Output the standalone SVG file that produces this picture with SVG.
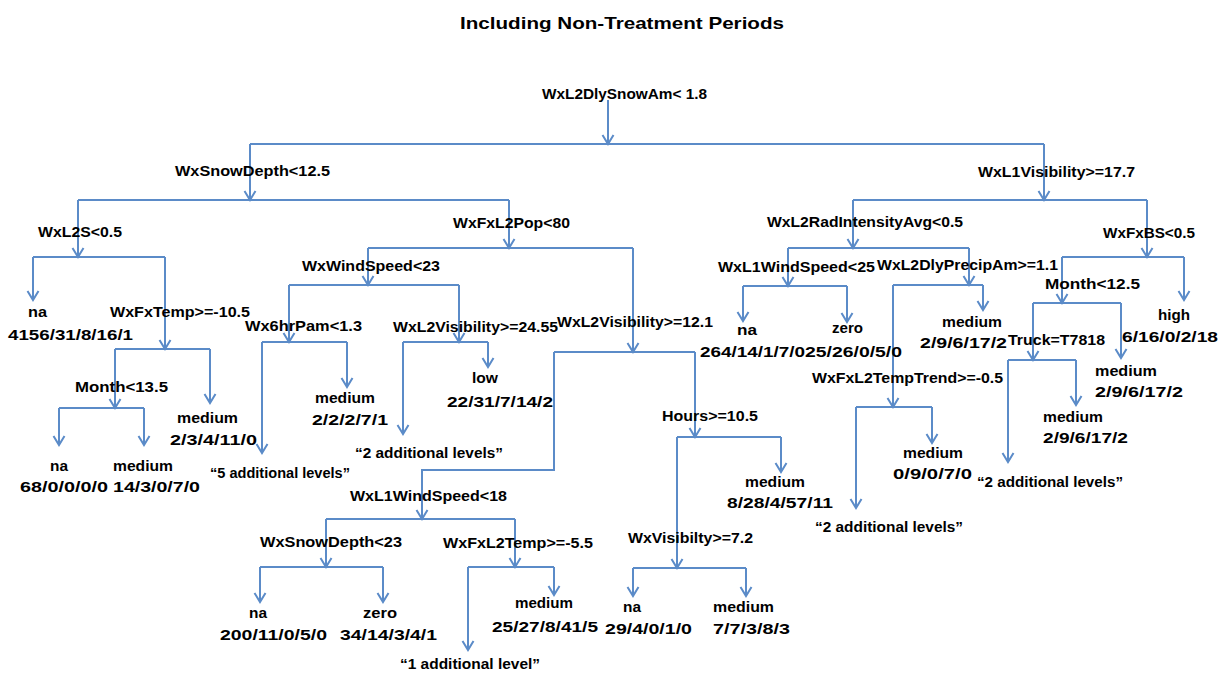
<svg xmlns="http://www.w3.org/2000/svg" width="1219" height="673" viewBox="0 0 1219 673">
<style>
text{font-family:"Liberation Sans",Arial,sans-serif;font-weight:bold;font-size:15px;fill:#000}
.title{font-size:17px}
.c path{fill:none;stroke:#5B8BC8;stroke-width:2}
.c .e{marker-end:url(#ah)}
</style>
<defs>
<marker id="ah" viewBox="-11 -7 13 14" markerWidth="13" markerHeight="14" refX="0" refY="0" orient="auto" markerUnits="userSpaceOnUse">
<path d="M-9,-5.5 L0,0 L-9,5.5" fill="none" stroke="#5B8BC8" stroke-width="2"/>
</marker>
</defs>
<rect width="1219" height="673" fill="#fff"/>
<text class="title" x="460" y="29" textLength="324" lengthAdjust="spacingAndGlyphs">Including Non-Treatment Periods</text>

<g class="c" id="connectors">
<path class="e" d="M608,100 V144"/>
<path d="M250,144 H1044"/>
<path class="e" d="M250,144 V200"/>
<path d="M78,200 H509"/>
<path class="e" d="M78,200 V257"/>
<path d="M33,257 H165"/>
<path class="e" d="M33,257 V300"/>
<path class="e" d="M165,257 V349"/>
<path d="M115,349 H210"/>
<path class="e" d="M115,349 V408"/>
<path d="M59,408 H144"/>
<path class="e" d="M59,408 V445"/>
<path class="e" d="M144,408 V445"/>
<path class="e" d="M210,349 V403"/>
<path class="e" d="M509,200 V248"/>
<path d="M368,248 H633"/>
<path class="e" d="M368,248 V285"/>
<path d="M289,285 H459"/>
<path class="e" d="M289,285 V342"/>
<path d="M262,342 H347"/>
<path class="e" d="M262,342 V453"/>
<path class="e" d="M347,342 V387"/>
<path class="e" d="M459,285 V342"/>
<path d="M403,342 H488"/>
<path class="e" d="M403,342 V434"/>
<path class="e" d="M488,342 V367"/>
<path class="e" d="M633,248 V352"/>
<path d="M554,352 H695"/>
<path class="e" d="M554,352 V470 H422 V519"/>
<path d="M326,519 H515"/>
<path class="e" d="M326,519 V567"/>
<path d="M260,567 H383"/>
<path class="e" d="M260,567 V602"/>
<path class="e" d="M383,567 V602"/>
<path class="e" d="M515,519 V567"/>
<path d="M468,567 H554"/>
<path class="e" d="M468,567 V650"/>
<path class="e" d="M554,567 V595"/>
<path class="e" d="M695,352 V437"/>
<path d="M677,437 H781"/>
<path class="e" d="M677,437 V568"/>
<path d="M633,568 H746"/>
<path class="e" d="M633,568 V596"/>
<path class="e" d="M746,568 V596"/>
<path class="e" d="M781,437 V472"/>
<path class="e" d="M1044,144 V200"/>
<path d="M853,200 H1147"/>
<path class="e" d="M853,200 V248"/>
<path d="M788,248 H969"/>
<path class="e" d="M788,248 V286"/>
<path d="M743,286 H847"/>
<path class="e" d="M743,286 V321"/>
<path class="e" d="M847,286 V322"/>
<path class="e" d="M969,248 V285"/>
<path d="M893,285 H983"/>
<path class="e" d="M893,285 V407"/>
<path d="M856,407 H932"/>
<path class="e" d="M856,407 V508"/>
<path class="e" d="M932,407 V443"/>
<path class="e" d="M983,285 V310"/>
<path class="e" d="M1147,200 V257"/>
<path d="M1062,257 H1184"/>
<path class="e" d="M1062,257 V303"/>
<path d="M1033,303 H1121"/>
<path class="e" d="M1033,303 V360"/>
<path d="M1008,360 H1076"/>
<path class="e" d="M1008,360 V462"/>
<path class="e" d="M1076,360 V405"/>
<path class="e" d="M1121,303 V358"/>
<path class="e" d="M1184,257 V300"/>
</g>

<g id="n-root"><text x="542" y="99" textLength="165" lengthAdjust="spacingAndGlyphs">WxL2DlySnowAm&lt; 1.8</text></g>
<g id="n-snowdepth125"><text x="175" y="176" textLength="155" lengthAdjust="spacingAndGlyphs">WxSnowDepth&lt;12.5</text></g>
<g id="n-l1vis177"><text x="978" y="177" textLength="157" lengthAdjust="spacingAndGlyphs">WxL1Visibility&gt;=17.7</text></g>
<g id="n-l2s"><text x="38" y="237" textLength="84" lengthAdjust="spacingAndGlyphs">WxL2S&lt;0.5</text></g>
<g id="n-pop"><text x="453" y="228" textLength="117" lengthAdjust="spacingAndGlyphs">WxFxL2Pop&lt;80</text></g>
<g id="n-rad"><text x="767" y="227" textLength="196" lengthAdjust="spacingAndGlyphs">WxL2RadIntensityAvg&lt;0.5</text></g>
<g id="n-bs"><text x="1103" y="238" textLength="92" lengthAdjust="spacingAndGlyphs">WxFxBS&lt;0.5</text></g>
<g id="n-wind23"><text x="302" y="271" textLength="138" lengthAdjust="spacingAndGlyphs">WxWindSpeed&lt;23</text></g>
<g id="n-l1wind25"><text x="718" y="272" textLength="157" lengthAdjust="spacingAndGlyphs">WxL1WindSpeed&lt;25</text></g>
<g id="n-precip"><text x="877" y="270" textLength="181" lengthAdjust="spacingAndGlyphs">WxL2DlyPrecipAm&gt;=1.1</text></g>
<g id="n-month125"><text x="1045" y="289" textLength="95" lengthAdjust="spacingAndGlyphs">Month&lt;12.5</text></g>
<g id="l-na1"><text x="28" y="317" textLength="19" lengthAdjust="spacingAndGlyphs">na</text><text x="8" y="340" textLength="125" lengthAdjust="spacingAndGlyphs">4156/31/8/16/1</text></g>
<g id="n-fxtemp"><text x="110" y="317" textLength="140" lengthAdjust="spacingAndGlyphs">WxFxTemp&gt;=-10.5</text></g>
<g id="n-6hr"><text x="245" y="331" textLength="117" lengthAdjust="spacingAndGlyphs">Wx6hrPam&lt;1.3</text></g>
<g id="n-l2vis2455"><text x="393" y="332" textLength="165" lengthAdjust="spacingAndGlyphs">WxL2Visibility&gt;=24.55</text></g>
<g id="n-l2vis121"><text x="557" y="327" textLength="156" lengthAdjust="spacingAndGlyphs">WxL2Visibility&gt;=12.1</text></g>
<g id="l-na-wind25"><text x="737" y="335" textLength="20" lengthAdjust="spacingAndGlyphs">na</text><text x="700" y="357" textLength="105" lengthAdjust="spacingAndGlyphs">264/14/1/7/0</text></g>
<g id="l-zero-wind25"><text x="832" y="333" textLength="31" lengthAdjust="spacingAndGlyphs">zero</text><text x="805" y="357" textLength="97" lengthAdjust="spacingAndGlyphs">25/26/0/5/0</text></g>
<g id="l-med-precip"><text x="942" y="327" textLength="60" lengthAdjust="spacingAndGlyphs">medium</text><text x="920" y="348" textLength="87" lengthAdjust="spacingAndGlyphs">2/9/6/17/2</text></g>
<g id="l-high"><text x="1158" y="320" textLength="32" lengthAdjust="spacingAndGlyphs">high</text><text x="1122" y="342" textLength="96" lengthAdjust="spacingAndGlyphs">6/16/0/2/18</text></g>
<g id="n-truck"><text x="1008" y="345" textLength="97" lengthAdjust="spacingAndGlyphs">Truck=T7818</text></g>
<g id="l-med-month125"><text x="1095" y="376" textLength="62" lengthAdjust="spacingAndGlyphs">medium</text><text x="1095" y="397" textLength="88" lengthAdjust="spacingAndGlyphs">2/9/6/17/2</text></g>
<g id="n-temptrend"><text x="812" y="383" textLength="191" lengthAdjust="spacingAndGlyphs">WxFxL2TempTrend&gt;=-0.5</text></g>
<g id="l-low"><text x="472" y="383" textLength="26" lengthAdjust="spacingAndGlyphs">low</text><text x="447" y="407" textLength="106" lengthAdjust="spacingAndGlyphs">22/31/7/14/2</text></g>
<g id="l-med-6hr"><text x="315" y="403" textLength="60" lengthAdjust="spacingAndGlyphs">medium</text><text x="312" y="425" textLength="76" lengthAdjust="spacingAndGlyphs">2/2/2/7/1</text></g>
<g id="n-month135"><text x="75" y="392" textLength="93" lengthAdjust="spacingAndGlyphs">Month&lt;13.5</text></g>
<g id="n-hours"><text x="662" y="421" textLength="96" lengthAdjust="spacingAndGlyphs">Hours&gt;=10.5</text></g>
<g id="l-med-truck"><text x="1043" y="422" textLength="60" lengthAdjust="spacingAndGlyphs">medium</text><text x="1043" y="443" textLength="85" lengthAdjust="spacingAndGlyphs">2/9/6/17/2</text></g>
<g id="l-med-fxtemp"><text x="177" y="423" textLength="61" lengthAdjust="spacingAndGlyphs">medium</text><text x="170" y="445" textLength="87" lengthAdjust="spacingAndGlyphs">2/3/4/11/0</text></g>
<g id="l-2add-l2vis"><text x="355" y="458" textLength="148" lengthAdjust="spacingAndGlyphs">“2 additional levels”</text></g>
<g id="l-med-temptrend"><text x="903" y="458" textLength="60" lengthAdjust="spacingAndGlyphs">medium</text><text x="893" y="479" textLength="79" lengthAdjust="spacingAndGlyphs">0/9/0/7/0</text></g>
<g id="l-na-month135"><text x="50" y="471" textLength="18" lengthAdjust="spacingAndGlyphs">na</text><text x="20" y="492" textLength="88" lengthAdjust="spacingAndGlyphs">68/0/0/0/0</text></g>
<g id="l-med-month135"><text x="113" y="471" textLength="60" lengthAdjust="spacingAndGlyphs">medium</text><text x="113" y="492" textLength="87" lengthAdjust="spacingAndGlyphs">14/3/0/7/0</text></g>
<g id="l-5add"><text x="210" y="478" textLength="140" lengthAdjust="spacingAndGlyphs">“5 additional levels”</text></g>
<g id="l-2add-truck"><text x="977" y="487" textLength="146" lengthAdjust="spacingAndGlyphs">“2 additional levels”</text></g>
<g id="l-med-hours"><text x="745" y="487" textLength="60" lengthAdjust="spacingAndGlyphs">medium</text><text x="727" y="508" textLength="106" lengthAdjust="spacingAndGlyphs">8/28/4/57/11</text></g>
<g id="n-l1wind18"><text x="350" y="501" textLength="157" lengthAdjust="spacingAndGlyphs">WxL1WindSpeed&lt;18</text></g>
<g id="l-2add-temptrend"><text x="815" y="532" textLength="148" lengthAdjust="spacingAndGlyphs">“2 additional levels”</text></g>
<g id="n-wxvis72"><text x="628" y="543" textLength="125" lengthAdjust="spacingAndGlyphs">WxVisibilty&gt;=7.2</text></g>
<g id="n-snow23"><text x="260" y="547" textLength="142" lengthAdjust="spacingAndGlyphs">WxSnowDepth&lt;23</text></g>
<g id="n-fxl2temp"><text x="443" y="548" textLength="150" lengthAdjust="spacingAndGlyphs">WxFxL2Temp&gt;=-5.5</text></g>
<g id="l-med-fxl2temp"><text x="515" y="608" textLength="58" lengthAdjust="spacingAndGlyphs">medium</text><text x="492" y="632" textLength="106" lengthAdjust="spacingAndGlyphs">25/27/8/41/5</text></g>
<g id="l-na-wxvis"><text x="623" y="612" textLength="18" lengthAdjust="spacingAndGlyphs">na</text><text x="605" y="634" textLength="87" lengthAdjust="spacingAndGlyphs">29/4/0/1/0</text></g>
<g id="l-med-wxvis"><text x="713" y="612" textLength="61" lengthAdjust="spacingAndGlyphs">medium</text><text x="713" y="634" textLength="77" lengthAdjust="spacingAndGlyphs">7/7/3/8/3</text></g>
<g id="l-na-snow23"><text x="249" y="618" textLength="18" lengthAdjust="spacingAndGlyphs">na</text><text x="220" y="640" textLength="107" lengthAdjust="spacingAndGlyphs">200/11/0/5/0</text></g>
<g id="l-zero-snow23"><text x="363" y="618" textLength="34" lengthAdjust="spacingAndGlyphs">zero</text><text x="340" y="640" textLength="97" lengthAdjust="spacingAndGlyphs">34/14/3/4/1</text></g>
<g id="l-1add"><text x="400" y="669" textLength="140" lengthAdjust="spacingAndGlyphs">“1 additional level”</text></g>
</svg>
